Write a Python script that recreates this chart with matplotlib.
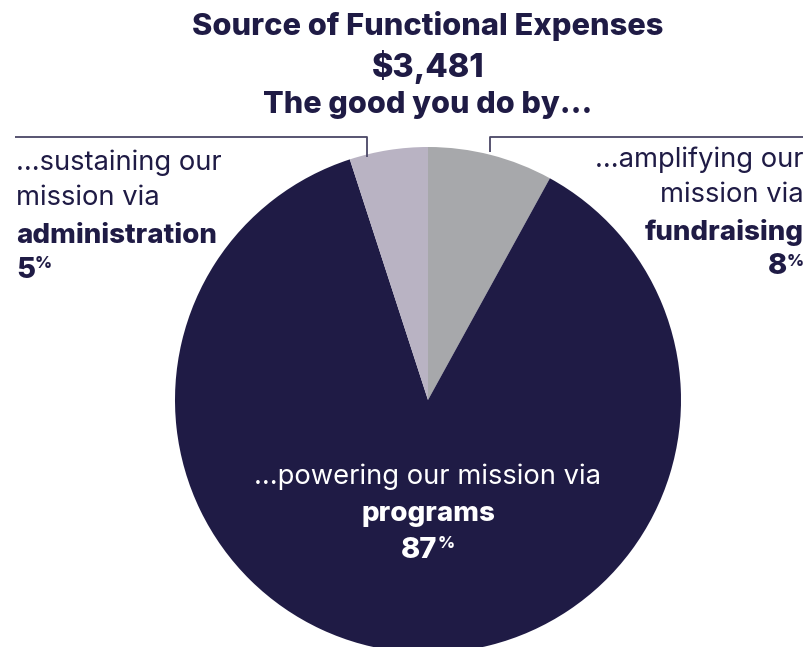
import matplotlib
matplotlib.use("Agg")
import matplotlib.pyplot as plt

# data
labels = ["fundraising", "programs", "administration"]
shares = [8, 87, 5]
colors = ["#a7a8ab", "#1f1b45", "#b9b3c3"]
title_lines = ["Source of Functional Expenses", "$3,481", "The good you do by..."]

NAVY = "#1f1b45"
FONT = "Inter"
W, H = 808, 647
LBL = 19.7

fig = plt.figure(figsize=(W / 100, H / 100), dpi=100)
ax = fig.add_axes([0, 0, 1, 1])

# pie (y axis inverted, so counterclock=True draws clockwise on screen)
ax.pie(shares, colors=colors, startangle=-90, counterclock=True,
       center=(428, 400), radius=253, frame=True,
       wedgeprops=dict(linewidth=0))
ax.set_xlim(0, W)
ax.set_ylim(H, 0)
ax.set_aspect("equal")
ax.axis("off")

# title
for txt, y, fs in zip(title_lines, [26, 67, 105], [22.2, 23.5, 22]):
    ax.text(428, y, txt, ha="center", va="center", fontsize=fs,
            fontweight="heavy", color=NAVY, family=FONT)

# leader lines
ax.plot([15, 367, 367], [137, 137, 157], color="#4a4766", lw=1.3, solid_capstyle="butt")
ax.plot([803, 490, 490], [137, 137, 152], color="#4a4766", lw=1.3, solid_capstyle="butt")

fig.canvas.draw()
rend = fig.canvas.get_renderer()


def pct(x, y, value, ha, color):
    num = ax.text(x, y, str(value), ha="left", va="center", fontsize=21,
                  fontweight="heavy", color=color, family=FONT)
    bb = num.get_window_extent(rend)
    sign = ax.text(0, 0, "%", fontsize=12, fontweight="heavy", color=color,
                   family=FONT, va="center", ha="left")
    sb = sign.get_window_extent(rend)
    total = bb.width + sb.width
    if ha == "right":
        x0 = x - total
    elif ha == "center":
        x0 = x - total / 2
    else:
        x0 = x
    num.set_x(x0)
    sign.set_position((x0 + bb.width, y - 6))


# left label: administration
ax.text(16, 163, "...sustaining our", ha="left", va="center", fontsize=LBL,
        color=NAVY, family=FONT)
ax.text(16, 198, "mission via", ha="left", va="center", fontsize=LBL,
        color=NAVY, family=FONT)
ax.text(16, 236, labels[2], ha="left", va="center", fontsize=20,
        fontweight="heavy", color=NAVY, family=FONT)
pct(16, 270, shares[2], "left", NAVY)

# right label: fundraising
ax.text(804, 160, "...amplifying our", ha="right", va="center", fontsize=LBL,
        color=NAVY, family=FONT)
ax.text(804, 195, "mission via", ha="right", va="center", fontsize=LBL,
        color=NAVY, family=FONT)
ax.text(804, 232, labels[0], ha="right", va="center", fontsize=20,
        fontweight="heavy", color=NAVY, family=FONT)
pct(804, 267, shares[0], "right", NAVY)

# center label: programs
ax.text(428, 477, "...powering our mission via", ha="center", va="center",
        fontsize=LBL, color="white", family=FONT)
ax.text(428, 514, labels[1], ha="center", va="center", fontsize=20,
        fontweight="heavy", color="white", family=FONT)
pct(428, 550, shares[1], "center", "white")

fig.savefig("out.png", dpi=100, facecolor="white")
